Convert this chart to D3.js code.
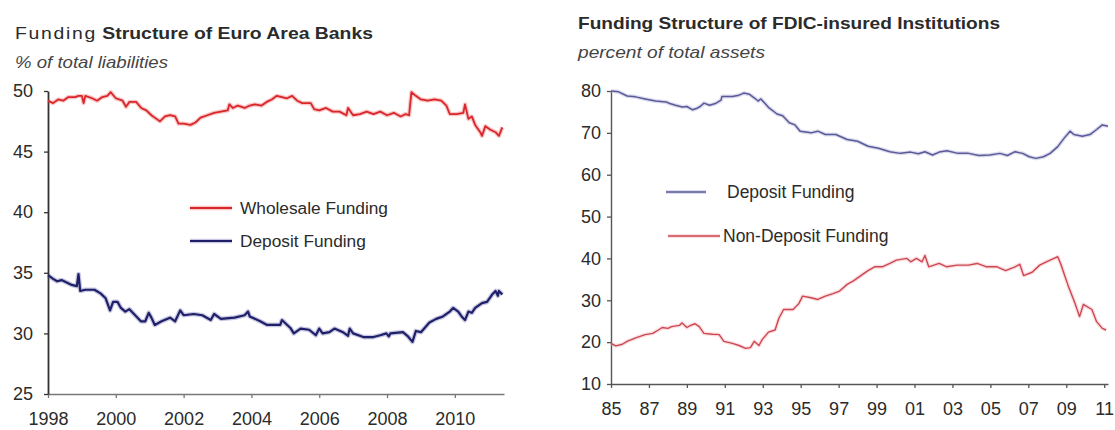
<!DOCTYPE html>
<html>
<head>
<meta charset="utf-8">
<script src="https://cdn.jsdelivr.net/npm/d3@7"></script>
<style>
  body { margin: 0; background: #fff; }
  text { font-family: "Liberation Sans", Arial, sans-serif; fill: #2b2b2b; }
</style>
</head>
<body>
<script>
// left panel: euro area banks, % of total liabilities  [decimal year, value]
var wholesale = [
  [1998.0,49.2],[1998.15,49.0],[1998.3,49.3],[1998.45,49.2],[1998.6,49.5],[1998.8,49.5],[1998.9,49.6],
  [1999.0,49.6],[1999.05,49.0],[1999.1,49.6],[1999.3,49.4],[1999.45,49.2],[1999.6,49.5],[1999.75,49.6],
  [1999.85,49.9],[2000.0,49.4],[2000.2,49.2],[2000.3,48.7],[2000.4,49.1],[2000.6,49.1],[2000.75,48.6],
  [2000.9,48.4],[2001.05,48.0],[2001.2,47.7],[2001.3,47.5],[2001.45,47.9],[2001.6,48.0],[2001.75,47.9],
  [2001.85,47.3],[2002.0,47.3],[2002.2,47.2],[2002.35,47.4],[2002.5,47.8],[2002.7,48.0],[2002.9,48.2],
  [2003.1,48.3],[2003.3,48.4],[2003.35,48.9],[2003.45,48.6],[2003.6,48.8],[2003.8,48.6],[2003.95,48.8],
  [2004.1,48.9],[2004.3,48.8],[2004.45,49.1],[2004.6,49.3],[2004.75,49.6],[2004.9,49.5],[2005.05,49.4],
  [2005.2,49.6],[2005.35,49.2],[2005.5,49.0],[2005.75,49.0],[2005.85,48.5],[2006.0,48.4],[2006.2,48.6],
  [2006.4,48.3],[2006.6,48.3],[2006.8,48.0],[2006.85,48.6],[2007.0,48.0],[2007.2,48.1],[2007.4,48.3],
  [2007.6,48.1],[2007.8,48.3],[2008.0,48.0],[2008.2,48.2],[2008.4,47.9],[2008.55,48.1],[2008.65,48.0],
  [2008.72,49.9],[2008.85,49.6],[2009.0,49.3],[2009.2,49.2],[2009.4,49.3],[2009.6,49.2],[2009.75,48.8],
  [2009.85,48.1],[2010.05,48.1],[2010.25,48.2],[2010.3,48.9],[2010.4,47.7],[2010.5,47.9],[2010.6,47.2],
  [2010.75,46.6],[2010.8,46.3],[2010.9,47.1],[2011.05,46.8],[2011.2,46.6],[2011.3,46.3],[2011.4,47.0]
];
var euroDeposit = [
  [1998.0,34.8],[1998.15,34.5],[1998.27,34.3],[1998.4,34.4],[1998.55,34.2],[1998.7,34.0],[1998.85,33.9],
  [1998.9,34.9],[1998.95,33.5],[1999.1,33.6],[1999.37,33.6],[1999.55,33.3],[1999.7,32.9],[1999.83,31.9],
  [1999.92,32.6],[2000.05,32.6],[2000.15,32.1],[2000.28,31.8],[2000.4,32.0],[2000.55,31.55],[2000.74,31.0],
  [2000.87,31.0],[2000.97,31.7],[2001.05,31.3],[2001.15,30.7],[2001.35,31.0],[2001.6,31.3],[2001.75,31.0],
  [2001.9,31.9],[2002.0,31.5],[2002.3,31.6],[2002.55,31.5],[2002.8,31.1],[2002.9,31.6],[2003.1,31.2],
  [2003.5,31.3],[2003.8,31.5],[2003.9,31.8],[2003.95,31.4],[2004.26,31.0],[2004.46,30.7],[2004.85,30.7],
  [2004.9,31.1],[2005.15,30.45],[2005.25,30.0],[2005.45,30.4],[2005.7,30.3],[2005.9,29.85],[2006.0,30.4],
  [2006.1,30.0],[2006.3,30.1],[2006.45,30.4],[2006.7,30.1],[2006.85,29.8],[2006.9,30.4],[2007.0,30.0],
  [2007.3,29.7],[2007.6,29.7],[2007.8,29.85],[2007.98,30.0],[2008.05,29.75],[2008.1,30.0],[2008.47,30.1],
  [2008.6,29.8],[2008.75,29.3],[2008.85,30.2],[2009.0,30.1],[2009.25,30.9],[2009.45,31.2],[2009.65,31.4],
  [2009.85,31.8],[2009.95,32.1],[2010.1,31.8],[2010.2,31.4],[2010.3,31.1],[2010.4,31.8],[2010.5,31.7],
  [2010.6,32.1],[2010.8,32.5],[2010.95,32.6],[2011.1,33.2],[2011.2,33.5],[2011.27,33.1],[2011.3,33.5],
  [2011.4,33.2]
];
var euroTicksX = [1998, 2000, 2002, 2004, 2006, 2008, 2010];
var euroTicksY = [25, 30, 35, 40, 45, 50];

// right panel: FDIC-insured institutions, percent of total assets
var fdicDeposit = [
  [1985.0,80.0],[1985.4,79.8],[1985.85,78.8],[1986.3,78.6],[1986.8,78.1],[1987.35,77.6],[1987.9,77.4],
  [1988.1,77.0],[1988.4,76.6],[1988.75,76.2],[1989.0,76.3],[1989.3,75.5],[1989.5,75.8],[1989.7,76.3],
  [1989.9,77.1],[1990.2,76.6],[1990.5,77.0],[1990.8,77.8],[1990.85,78.7],[1991.4,78.7],[1991.75,79.0],
  [1992.0,79.5],[1992.3,79.2],[1992.6,78.2],[1992.75,77.6],[1992.9,78.1],[1993.3,76.1],[1993.75,74.5],
  [1994.05,74.1],[1994.4,72.4],[1994.7,71.9],[1994.97,70.4],[1995.55,70.0],[1995.9,70.4],[1996.3,69.6],
  [1996.85,69.6],[1997.45,68.4],[1998.0,68.0],[1998.55,66.8],[1999.1,66.3],[1999.7,65.5],[2000.25,65.1],
  [2000.8,65.4],[2001.2,65.0],[2001.55,65.5],[2001.95,64.7],[2002.3,65.4],[2002.7,65.7],[2003.3,65.1],
  [2003.85,65.1],[2004.4,64.6],[2004.97,64.7],[2005.5,65.1],[2005.9,64.6],[2006.3,65.5],[2006.7,65.1],
  [2007.05,64.3],[2007.4,63.9],[2007.8,64.3],[2008.15,65.1],[2008.55,66.7],[2008.9,68.8],[2009.2,70.4],
  [2009.4,69.6],[2009.85,69.2],[2010.25,69.6],[2010.6,70.8],[2010.9,71.9],[2011.2,71.6]
];
var fdicNonDeposit = [
  [1985.0,19.7],[1985.25,19.1],[1985.6,19.5],[1985.85,20.2],[1986.3,21.0],[1986.8,21.8],[1987.2,22.1],
  [1987.5,22.9],[1987.7,23.5],[1988.0,23.3],[1988.2,23.7],[1988.6,24.0],[1988.75,24.6],[1989.0,23.5],
  [1989.2,24.0],[1989.43,24.4],[1989.65,23.7],[1989.9,22.1],[1990.35,21.9],[1990.7,21.8],[1990.95,20.2],
  [1991.4,19.7],[1991.75,19.2],[1992.1,18.5],[1992.35,18.7],[1992.55,20.2],[1992.8,19.2],[1992.97,20.6],
  [1993.3,22.4],[1993.65,22.9],[1993.85,25.7],[1994.1,27.8],[1994.6,27.8],[1994.9,29.2],[1995.1,31.0],
  [1995.55,30.6],[1995.9,30.2],[1996.3,31.0],[1996.7,31.6],[1997.05,32.2],[1997.45,33.8],[1997.8,34.7],
  [1998.3,36.3],[1998.55,37.1],[1998.9,38.0],[1999.3,38.0],[1999.7,38.8],[2000.05,39.6],[2000.6,40.0],
  [2000.8,39.2],[2001.1,40.0],[2001.4,39.2],[2001.55,40.7],[2001.75,38.0],[2002.3,38.8],[2002.7,38.0],
  [2003.25,38.4],[2003.85,38.4],[2004.3,38.8],[2004.8,38.0],[2005.35,38.0],[2005.8,37.1],[2006.3,38.0],
  [2006.55,38.6],[2006.75,35.9],[2007.2,36.7],[2007.6,38.4],[2007.95,39.2],[2008.35,40.0],[2008.55,40.4],
  [2008.7,38.8],[2009.1,33.5],[2009.45,29.4],[2009.7,26.1],[2009.9,29.0],[2010.35,27.8],[2010.6,24.9],
  [2010.9,23.3],[2011.1,22.9]
];
var fdicTicksX = [1985, 1987, 1989, 1991, 1993, 1995, 1997, 1999, 2001, 2003, 2005, 2007, 2009, 2011];
var fdicTickLabels = ["85","87","89","91","93","95","97","99","01","03","05","07","09","11"];
var fdicTicksY = [10, 20, 30, 40, 50, 60, 70, 80];

var svg = d3.select("body").append("svg")
    .attr("width", 1115)
    .attr("height", 430);

function drawLine(g, data, x, y, color, halo, width) {
    var line = d3.line()
        .x(function(d) { return x(d[0]); })
        .y(function(d) { return y(d[1]); });
    // soft halo under the line, like the scanned original
    g.append("path")
        .datum(data)
        .attr("d", line)
        .attr("fill", "none")
        .attr("stroke", halo)
        .attr("stroke-opacity", 0.35)
        .attr("stroke-width", width + 2.5)
        .attr("stroke-linejoin", "round");
    g.append("path")
        .datum(data)
        .attr("d", line)
        .attr("fill", "none")
        .attr("stroke", color)
        .attr("stroke-width", width)
        .attr("stroke-linejoin", "round");
}

function styleAxis(a, color, width) {
    a.attr("font-family", null).attr("font-size", null);
    a.select(".domain").attr("stroke", color).attr("stroke-width", width);
    a.selectAll(".tick line").attr("stroke", color).attr("stroke-width", 1.3);
    a.selectAll(".tick text").attr("fill", "#2b2b2b").style("font-size", "18px");
}

function legendItem(g, x1, x2, ly, tx, label, size, color, halo, width) {
    g.append("line").attr("x1", x1).attr("x2", x2).attr("y1", ly).attr("y2", ly)
        .attr("stroke", halo).attr("stroke-opacity", 0.35).attr("stroke-width", width + 2.5);
    g.append("line").attr("x1", x1).attr("x2", x2).attr("y1", ly).attr("y2", ly)
        .attr("stroke", color).attr("stroke-width", width);
    g.append("text").attr("x", tx).attr("y", ly + 6)
        .style("font-size", size + "px")
        .text(label);
}

// ---------- left panel ----------
var gl = svg.append("g");
var xL = d3.scaleLinear().domain([1998, 2011.45]).range([48, 504]);
var yL = d3.scaleLinear().domain([25, 50]).range([394, 91]);

var t1 = gl.append("text").attr("x", 15).attr("y", 39)
    .attr("textLength", 358).attr("lengthAdjust", "spacingAndGlyphs")
    .style("font-size", "17px");
t1.append("tspan").style("letter-spacing", "1.5px").text("Funding");
t1.append("tspan").style("font-weight", "bold").text(" Structure of Euro Area Banks");
gl.append("text").attr("x", 15).attr("y", 68)
    .attr("textLength", 153).attr("lengthAdjust", "spacingAndGlyphs")
    .style("font-size", "17px").style("font-style", "italic").style("fill", "#444")
    .text("% of total liabilities");

var axL = gl.append("g").attr("transform", "translate(0,394)")
    .call(d3.axisBottom(xL).tickValues(euroTicksX).tickFormat(d3.format("d"))
        .tickSize(4).tickSizeOuter(0).tickPadding(14));
styleAxis(axL, "#777", 1.3);
var ayL = gl.append("g").attr("transform", "translate(48,0)")
    .call(d3.axisLeft(yL).tickValues(euroTicksY).tickSize(4).tickSizeOuter(0).tickPadding(11));
styleAxis(ayL, "#333", 1.8);

drawLine(gl, wholesale, xL, yL, "#d8262b", "#f05a5a", 1.8);
drawLine(gl, euroDeposit, xL, yL, "#20206a", "#6060a8", 2.2);

legendItem(gl, 190, 232, 208, 240, "Wholesale Funding", 17.3, "#d8262b", "#f05a5a", 1.8);
legendItem(gl, 190, 232, 241, 240, "Deposit Funding", 17.3, "#20206a", "#6060a8", 2.2);

// ---------- right panel ----------
var gr = svg.append("g");
var xR = d3.scaleLinear().domain([1985, 2011.2]).range([611, 1108]);
var yR = d3.scaleLinear().domain([10, 80]).range([384, 91]);

gr.append("text").attr("x", 578).attr("y", 29)
    .attr("textLength", 422).attr("lengthAdjust", "spacingAndGlyphs")
    .style("font-size", "17px").style("font-weight", "bold")
    .text("Funding Structure of FDIC-insured Institutions");
gr.append("text").attr("x", 578).attr("y", 58)
    .attr("textLength", 187).attr("lengthAdjust", "spacingAndGlyphs")
    .style("font-size", "17px").style("font-style", "italic").style("fill", "#444")
    .text("percent of total assets");

var axR = gr.append("g").attr("transform", "translate(0,384)")
    .call(d3.axisBottom(xR).tickValues(fdicTicksX)
        .tickFormat(function(d, i) { return fdicTickLabels[i]; })
        .tickSize(4).tickSizeOuter(0).tickPadding(14));
styleAxis(axR, "#555", 1.3);
var ayR = gr.append("g").attr("transform", "translate(611,0)")
    .call(d3.axisLeft(yR).tickValues(fdicTicksY).tickSize(4).tickSizeOuter(0).tickPadding(6));
styleAxis(ayR, "#555", 1.4);

drawLine(gr, fdicDeposit, xR, yR, "#5a5a98", "#9a9acc", 1.5);
drawLine(gr, fdicNonDeposit, xR, yR, "#cc4750", "#f4a0a8", 1.4);

legendItem(gr, 666, 706, 192, 727, "Deposit Funding", 17.5, "#5a5a98", "#9a9acc", 1.5);
legendItem(gr, 668, 720, 236, 723, "Non-Deposit Funding", 17.5, "#cc4750", "#f4a0a8", 1.4);
</script>
</body>
</html>
